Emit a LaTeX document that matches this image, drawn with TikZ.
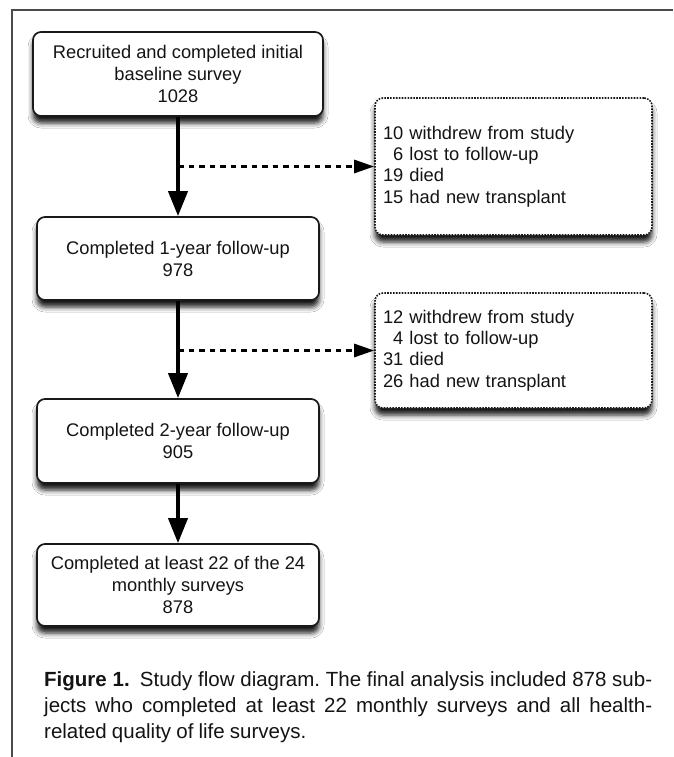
\documentclass[tikz,border=0pt]{standalone}
\usepackage{fontspec}
\setmainfont{Liberation Sans}
\usetikzlibrary{arrows.meta,shadows.blur}
\begin{document}
\begin{tikzpicture}[x=1pt,y=-1pt]
\useasboundingbox[fill=white] (0,0) rectangle (673,757);
\tikzset{
  boxshadow/.style={blur shadow={shadow xshift=0pt, shadow yshift=-7pt, shadow blur radius=5pt, shadow opacity=90}},
  mainbox/.style={draw=black!90, line width=1.7pt, rounded corners=8pt, fill=white,
    minimum width=282pt, minimum height=83pt, align=center, inner sep=0pt,
    font=\fontsize{18.3}{22}\selectfont, text=black!92, boxshadow},
  lossbox/.style={draw=black!90, line width=1.6pt, dash pattern=on 1.6pt off 1.3pt,
    rounded corners=8pt, fill=white, minimum width=277pt, inner xsep=8pt, inner ysep=0pt,
    text width=261pt, align=left, font=\fontsize{18.3}{21.3}\selectfont, text=black!92, boxshadow},
  mainarrow/.style={line width=4pt, draw=black, -{Triangle[width=19pt,length=25pt]}},
  lossarrow/.style={line width=2.8pt, draw=black, dash pattern=on 5.5pt off 5pt,
    -{Triangle[width=13pt,length=20pt]}},
  framestyle/.style={line width=1.3pt, draw=black!70},
}
% frame
\coordinate (fr1) at (673,10);
\coordinate (fr2) at (12,10);
\coordinate (fr3) at (12,757);
\draw[framestyle] (fr1) -- (fr2) -- (fr3);

% main boxes
\node[mainbox, minimum width=290pt, minimum height=84pt] (b1) at (178,74)
  {Recruited and completed initial\\baseline survey\\1028};
\node[mainbox] (b2) at (178,258.5) {Completed 1-year follow-up\\978};
\node[mainbox, minimum height=84pt] (b3) at (178,441) {Completed 2-year follow-up\\905};
\node[mainbox, minimum height=82pt] (b4) at (178,585)
  {Completed at least 22 of the 24\\monthly surveys\\878};

% loss boxes
\node[lossbox, minimum height=137pt] (d1) at (513.5,166.5)
  {10 withdrew from study\\\phantom{1}6 lost to follow-up\\19 died\\15 had new transplant};
\node[lossbox, minimum height=115pt] (d2) at (513.5,350.5)
  {12 withdrew from study\\\phantom{1}4 lost to follow-up\\31 died\\26 had new transplant};

% connectors
\coordinate (j1) at (178,166.5);
\coordinate (j2) at (178,350.5);
\draw[mainarrow] (b1.south) -- (b2.north);
\draw[mainarrow] (b2.south) -- (b3.north);
\draw[mainarrow] (b3.south) -- (b4.north);
\draw[lossarrow] (j1) -- (d1.west);
\draw[lossarrow] (j2) -- (d2.west);

% caption
\node[anchor=north west, text width=608pt, align=justify, inner sep=0pt,
  font=\fontsize{20.5}{26}\selectfont, text=black!92] (cap) at (44,671)
  {\frenchspacing\hyphenpenalty=10000\spaceskip=0.25em plus 0.3em minus 0.12em
  \textbf{Figure 1.}\hspace{0.5em}Study flow diagram. The final analysis included 878 sub-\linebreak jects who completed at least 22 monthly surveys and all health-\linebreak related quality of life surveys.};
\end{tikzpicture}
\end{document}
